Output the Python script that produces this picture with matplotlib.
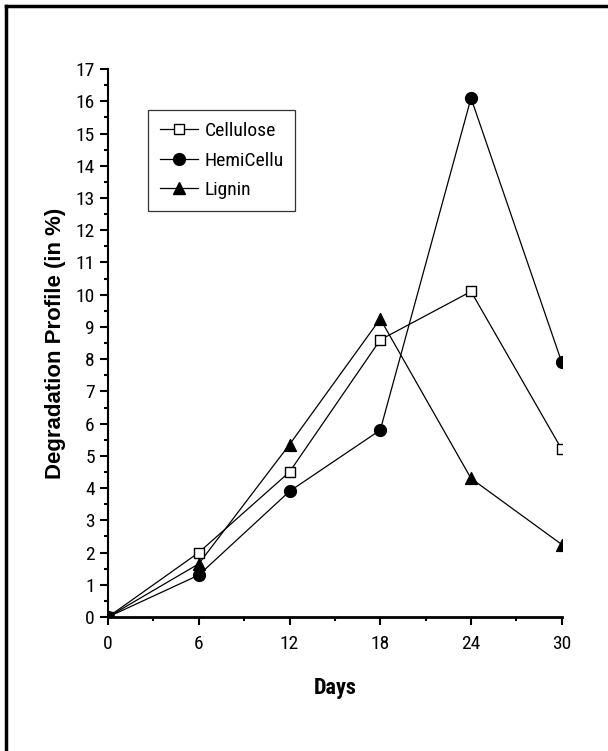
import matplotlib
matplotlib.use("Agg")
from matplotlib import pyplot as plt
from matplotlib.lines import Line2D
from matplotlib.ticker import MultipleLocator
from matplotlib import font_manager

# degradation profile over days
days = [0, 6, 12, 18, 24, 30]
cellulose = [0, 2.0, 4.5, 8.6, 10.1, 5.2]
hemicellu = [0, 1.3, 3.9, 5.8, 16.1, 7.9]
lignin = [0, 1.65, 5.35, 9.25, 4.3, 2.25]

names = set(f.name for f in font_manager.fontManager.ttflist)
fam = 'Liberation Sans'
for cand in ['Liberation Sans Narrow', 'Roboto Condensed', 'Open Sans Condensed']:
    if cand in names:
        fam = cand
        break
plt.rcParams['font.family'] = [fam, 'DejaVu Sans']

fig = plt.figure(figsize=(6.08, 7.51), dpi=100)
ax = fig.add_axes([0.1776, 0.1784, 0.924 - 0.1776, 0.908 - 0.1784])

series = [
    (cellulose, 'Cellulose', 's', 7, 'white'),
    (hemicellu, 'HemiCellu', 'o', 8.5, 'black'),
    (lignin, 'Lignin', '^', 8.5, 'black'),
]
handles = []
for vals, name, mk, ms, fc in series:
    ax.plot(days, vals, color='black', lw=0.9)
    # scatter so that markers on the axis limits get cut off like the original
    ax.scatter(days, vals, marker=mk, s=ms ** 2, facecolor=fc, edgecolor='black',
               linewidth=1, zorder=3)
    handles.append(Line2D([], [], color='black', lw=0.9, marker=mk, ms=ms,
                          mfc=fc, mec='black', mew=1, label=name))

ax.set_xlim(0, 30)
ax.set_ylim(0, 17)
ax.xaxis.set_major_locator(MultipleLocator(6))
ax.xaxis.set_minor_locator(MultipleLocator(3))
ax.yaxis.set_major_locator(MultipleLocator(1))
ax.yaxis.set_minor_locator(MultipleLocator(0.5))
ax.tick_params(which='major', direction='out', length=6, width=1.5, labelsize=14)
ax.tick_params(axis='x', which='major', pad=7)
ax.tick_params(which='minor', direction='out', length=3, width=1.5)

for s in ['top', 'right']:
    ax.spines[s].set_visible(False)
ax.spines['left'].set_linewidth(1.5)
ax.spines['bottom'].set_linewidth(2)

ax.set_xlabel('Days', fontsize=16, fontweight='bold', labelpad=17)
ax.set_ylabel('Degradation Profile (in %)', fontsize=16, fontweight='bold',
              labelpad=7, family=['Liberation Sans', 'DejaVu Sans'])

leg = ax.legend(handles=handles, loc='upper left', bbox_to_anchor=(0.088, 0.925),
                numpoints=1, fontsize=14, frameon=True, fancybox=False,
                edgecolor='black', borderaxespad=0, handlelength=2.0,
                handletextpad=0.3, borderpad=0.6, labelspacing=0.6)
leg.get_frame().set_linewidth(0.9)

# open frame round the figure (top and left edges only)
fig.add_artist(Line2D([0.0105, 0.0105], [0, 0.992], color='black', lw=2.5,
                      transform=fig.transFigure))
fig.add_artist(Line2D([0.0105, 1], [0.992, 0.992], color='black', lw=2.5,
                      transform=fig.transFigure))

fig.savefig('out.png', dpi=100)
